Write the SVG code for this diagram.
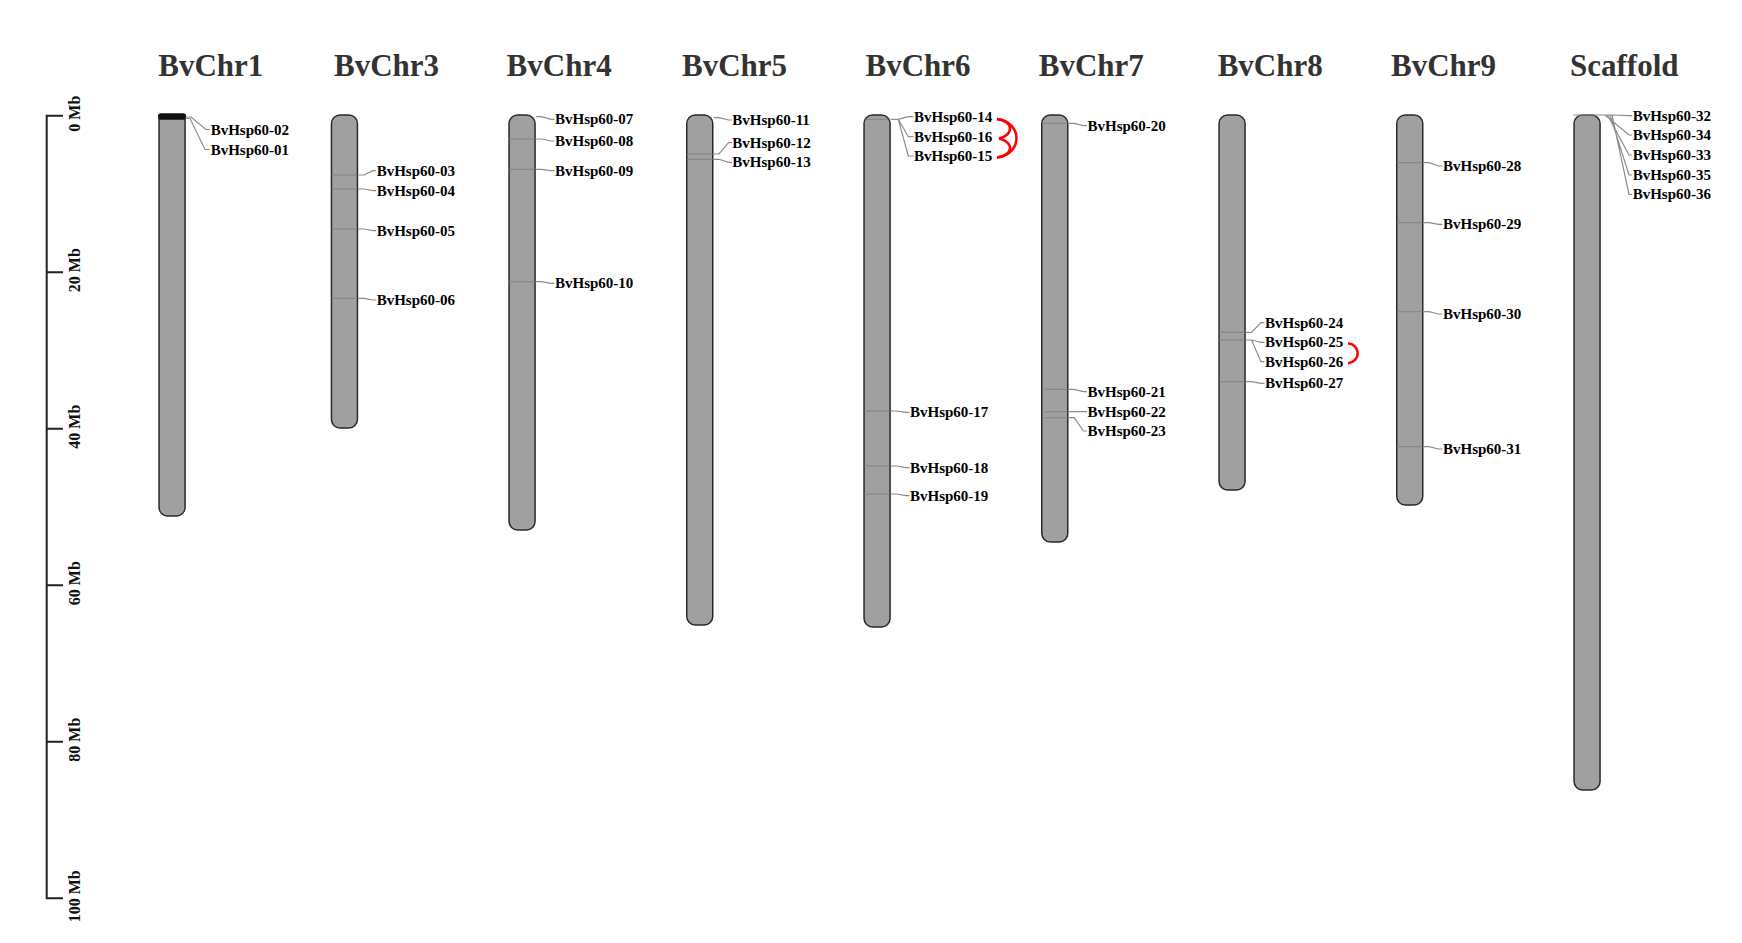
<svg xmlns="http://www.w3.org/2000/svg" width="1742" height="943" viewBox="0 0 1742 943">
<style>
.chr{fill:#a0a0a0;stroke:#2a2a2a;stroke-width:1.5}
.mk{stroke:#7c7c7c;stroke-width:0.8}
.cn{fill:none;stroke:#8c8c8c;stroke-width:1.2}
.dup{fill:none;stroke:#ff0000;stroke-width:2.5}
.lb{font-family:"Liberation Serif","Times New Roman",serif;font-weight:bold;font-size:15px;fill:#000}
.tt{font-family:"Liberation Serif","Times New Roman",serif;font-weight:bold;font-size:31px;fill:#333}
.ax{stroke:#222;stroke-width:2;fill:none}
.axl{font-family:"Liberation Serif","Times New Roman",serif;font-weight:bold;font-size:16px;fill:#111;text-anchor:middle}
</style>
<rect width="1742" height="943" fill="#fff"/>
<g id="scale">
<path class="ax" d="M63,115.7 H46.7 V898.3 H63 M46.7,272.2 H63 M46.7,428.7 H63 M46.7,585.2 H63 M46.7,741.7 H63"/>
<text class="axl" transform="translate(80,113.7) rotate(-90)">0 Mb</text>
<text class="axl" transform="translate(80,270.2) rotate(-90)">20 Mb</text>
<text class="axl" transform="translate(80,426.7) rotate(-90)">40 Mb</text>
<text class="axl" transform="translate(80,583.2) rotate(-90)">60 Mb</text>
<text class="axl" transform="translate(80,739.7) rotate(-90)">80 Mb</text>
<text class="axl" transform="translate(80,896.3) rotate(-90)">100 Mb</text>
</g>
<g id="BvChr1">
<text class="tt" x="158.3" y="76">BvChr1</text>
<path class="chr" d="M159.05,115 H185.05 V507.5 A8.5,8.5 0 0 1 176.55,516 H167.55 A8.5,8.5 0 0 1 159.05,507.5 Z"/>
<rect x="158.3" y="113.3" width="27.5" height="6.5" rx="2.5" fill="#111"/>
<text class="lb" x="210.7" y="134.5">BvHsp60-02</text>
<text class="lb" x="210.7" y="154.5">BvHsp60-01</text>
</g>
<g id="BvChr3">
<text class="tt" x="334" y="76">BvChr3</text>
<rect class="chr" x="331.45" y="115" width="26" height="313" rx="8.5"/>
<path class="mk" d="M331.5,175 H357.4 M331.5,189 H357.4 M331.5,229 H357.4 M331.5,298.3 H357.4"/>
<text class="lb" x="376.7" y="175.7">BvHsp60-03</text>
<text class="lb" x="376.7" y="195.7">BvHsp60-04</text>
<text class="lb" x="376.7" y="235.7">BvHsp60-05</text>
<text class="lb" x="376.7" y="305">BvHsp60-06</text>
</g>
<g id="BvChr4">
<text class="tt" x="506.6" y="76">BvChr4</text>
<rect class="chr" x="509.05" y="115" width="26" height="415" rx="8.5"/>
<path class="mk" d="M509.1,139 H535 M509.1,169.3 H535 M509.1,281.7 H535"/>
<text class="lb" x="555" y="124.3">BvHsp60-07</text>
<text class="lb" x="555" y="146">BvHsp60-08</text>
<text class="lb" x="555" y="175.7">BvHsp60-09</text>
<text class="lb" x="555" y="288.3">BvHsp60-10</text>
</g>
<g id="BvChr5">
<text class="tt" x="682" y="76">BvChr5</text>
<rect class="chr" x="686.75" y="115" width="26" height="510" rx="8.5"/>
<path class="mk" d="M686.8,154 H712.7 M686.8,159.3 H712.7"/>
<text class="lb" x="732.3" y="125">BvHsp60-11</text>
<text class="lb" x="732.3" y="147.7">BvHsp60-12</text>
<text class="lb" x="732.3" y="167.3">BvHsp60-13</text>
</g>
<g id="BvChr6">
<text class="tt" x="865.5" y="76">BvChr6</text>
<rect class="chr" x="864.05" y="115" width="26" height="512" rx="8.5"/>
<path class="mk" d="M865.5,119.3 H888.6 M864.1,411 H890 M864.1,466 H890 M864.1,494 H890"/>
<text class="lb" x="914" y="121.7">BvHsp60-14</text>
<text class="lb" x="914" y="141.7">BvHsp60-16</text>
<text class="lb" x="914" y="161">BvHsp60-15</text>
<text class="lb" x="910" y="417.3">BvHsp60-17</text>
<text class="lb" x="910" y="472.7">BvHsp60-18</text>
<text class="lb" x="910" y="500.7">BvHsp60-19</text>
</g>
<g id="BvChr7">
<text class="tt" x="1038.8" y="76">BvChr7</text>
<rect class="chr" x="1041.75" y="115" width="26" height="427" rx="8.5"/>
<path class="mk" d="M1041.8,123.3 H1067.7 M1041.8,389.3 H1067.7 M1041.8,411.7 H1067.7 M1041.8,417.7 H1067.7"/>
<text class="lb" x="1087.5" y="130.7">BvHsp60-20</text>
<text class="lb" x="1087.5" y="396.7">BvHsp60-21</text>
<text class="lb" x="1087.5" y="416.7">BvHsp60-22</text>
<text class="lb" x="1087.5" y="436">BvHsp60-23</text>
</g>
<g id="BvChr8">
<text class="tt" x="1217.7" y="76">BvChr8</text>
<rect class="chr" x="1219.05" y="115" width="26" height="375" rx="8.5"/>
<path class="mk" d="M1219.1,332.3 H1245 M1219.1,340 H1245 M1219.1,381.7 H1245"/>
<text class="lb" x="1265" y="327.7">BvHsp60-24</text>
<text class="lb" x="1265" y="347.3">BvHsp60-25</text>
<text class="lb" x="1265" y="366.7">BvHsp60-26</text>
<text class="lb" x="1265" y="388.3">BvHsp60-27</text>
</g>
<g id="BvChr9">
<text class="tt" x="1391" y="76">BvChr9</text>
<rect class="chr" x="1396.75" y="115" width="26" height="390" rx="8.5"/>
<path class="mk" d="M1396.8,162.7 H1422.7 M1396.8,222.7 H1422.7 M1396.8,311.7 H1422.7 M1396.8,446.7 H1422.7"/>
<text class="lb" x="1443" y="171">BvHsp60-28</text>
<text class="lb" x="1443" y="229.3">BvHsp60-29</text>
<text class="lb" x="1443" y="319">BvHsp60-30</text>
<text class="lb" x="1443" y="454">BvHsp60-31</text>
</g>
<g id="Scaffold">
<text class="tt" x="1570" y="76">Scaffold</text>
<rect class="chr" x="1574.05" y="115" width="26" height="675" rx="8.5"/>
<text class="lb" x="1632.7" y="120.7">BvHsp60-32</text>
<text class="lb" x="1632.7" y="140">BvHsp60-34</text>
<text class="lb" x="1632.7" y="160">BvHsp60-33</text>
<text class="lb" x="1632.7" y="180">BvHsp60-35</text>
<text class="lb" x="1632.7" y="199.3">BvHsp60-36</text>
</g>
<g id="connectors">
<path class="cn" d="M185.8,117 H191 L206,129.5 H210 M185.8,118.5 H190 L205,149.5 H210"/>
<path class="cn" d="M358.2,175 H364 L373,170.7 H376 M358.2,189 H364 L373,190.7 H376 M358.2,229 H364 L373,230.7 H376 M358.2,298.3 H364 L373,300 H376"/>
<path class="cn" d="M535.8,116.7 H541.5 L551,119.3 H554.5 M535.8,139 H541.5 L551,141 H554.5 M535.8,169.3 H541.5 L551,170.7 H554.5 M535.8,281.7 H541.5 L551,283.3 H554.5"/>
<path class="cn" d="M713.5,117.7 H719 L728.5,120 H732 M713.5,154 H719 L728.5,142.7 H732 M713.5,159.3 H719 L728.5,162.3 H732"/>
<path class="cn" d="M890.8,119.3 H898.3 L908.3,116.7 H913.5 M898.3,119.3 L908.3,136.7 H913.5 M898.3,119.3 L908.3,156 H913.5"/>
<path class="cn" d="M890.8,411 H896.5 L906,412.3 H909.5 M890.8,466 H896.5 L906,467.7 H909.5 M890.8,494 H896.5 L906,495.7 H909.5"/>
<path class="cn" d="M1068.5,123.3 H1074 L1083.5,125.7 H1087 M1068.5,389.3 H1074 L1083.5,391.7 H1087 M1068.5,411.7 H1087 M1068.5,417.7 H1074 L1083.5,431 H1087"/>
<path class="cn" d="M1245.8,332.3 H1251.5 L1261,322.7 H1264.5 M1245.8,340 H1251.5 L1261,342.3 H1264.5 M1251.5,340 L1261,361.7 H1264.5 M1245.8,381.7 H1251.5 L1261,383.3 H1264.5"/>
<path class="cn" d="M1423.5,162.7 H1429 L1438.5,166 H1442.5 M1423.5,222.7 H1429 L1438.5,224.3 H1442.5 M1423.5,311.7 H1429 L1438.5,314 H1442.5 M1423.5,446.7 H1429 L1438.5,449 H1442.5"/>
<path class="cn" d="M1573.3,115 H1612 L1629,115.7 H1632 M1605,115 L1629,135 H1632 M1607.5,115 L1629,155 H1632 M1610,115 L1629,175 H1632 M1612,115 L1629,194.3 H1632"/>
<path class="dup" d="M997,119 C1023,122 1023,154.5 997,157.5"/>
<path class="dup" d="M997,119 C1014,121 1014,135 999,138.5"/>
<path class="dup" d="M999,138.5 C1014,142 1014,155 997,157.5"/>
<path class="dup" d="M1348,343.3 C1361,345 1361,361.5 1348,363.3"/>
</g>
</svg>
